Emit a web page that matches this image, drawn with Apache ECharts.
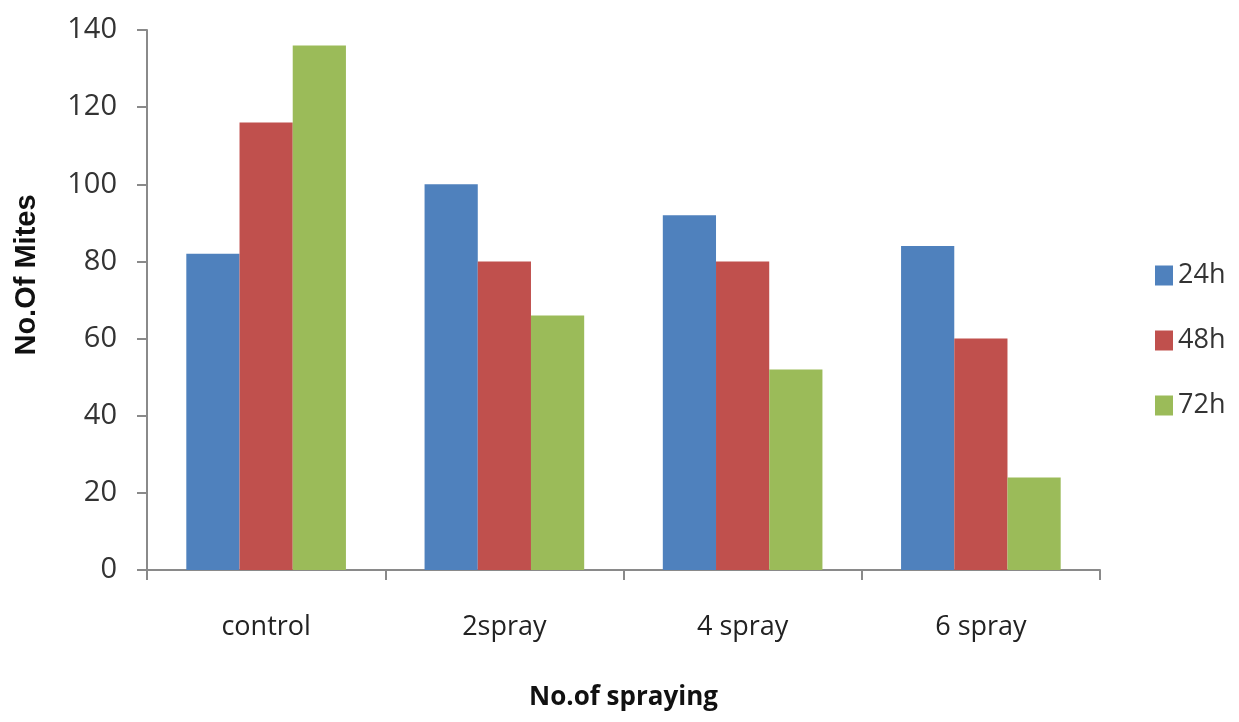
<!DOCTYPE html>
<html>
<head>
<meta charset="utf-8">
<script src="https://cdn.jsdelivr.net/npm/echarts@6/dist/echarts.min.js"></script>
<style>
html,body{margin:0;padding:0;background:#fff;}
#chart{width:1239px;height:722px;}
</style>
</head>
<body>
<div id="chart"></div>
<script>
var categories = ['control', '2spray', '4 spray', '6 spray'];
var seriesNames = ['24h', '48h', '72h'];
var values24h = [82, 100, 92, 84];
var values48h = [116, 80, 80, 60];
var values72h = [136, 66, 52, 24];
var yTicks = [0, 20, 40, 60, 80, 100, 120, 140];

var colors = ['#4F81BD', '#C0504D', '#9BBB59'];
var font = "'Open Sans', sans-serif";

var chart = echarts.init(document.getElementById('chart'));
var dataSets = [values24h, values48h, values72h];
chart.setOption({
  animation: false,
  backgroundColor: '#ffffff',
  grid: { left: 147, right: 139, top: 30, bottom: 152, containLabel: false },
  legend: {
    orient: 'vertical',
    left: 1150,
    top: 257,
    itemWidth: 18,
    itemHeight: 20,
    itemGap: 38,
    icon: 'rect',
    textStyle: { fontSize: 27, color: '#333', fontFamily: font },
    data: seriesNames
  },
  xAxis: {
    type: 'category',
    data: categories,
    name: 'No.of spraying',
    nameLocation: 'middle',
    nameGap: 115,
    nameTextStyle: { fontSize: 26, fontWeight: 'bold', color: '#111', fontFamily: font },
    axisLine: { lineStyle: { color: '#8a8a8a', width: 2 } },
    axisTick: { show: true, length: 10, lineStyle: { color: '#8a8a8a', width: 2 } },
    axisLabel: { fontSize: 27, color: '#222', margin: 44, fontFamily: font },
    splitLine: { show: false }
  },
  yAxis: {
    type: 'value',
    min: yTicks[0],
    max: yTicks[yTicks.length - 1],
    interval: 20,
    name: 'No.Of Mites',
    nameLocation: 'middle',
    nameGap: 106,
    nameRotate: 90,
    nameTextStyle: { fontSize: 29, fontWeight: 'bold', color: '#111', fontFamily: "'Liberation Sans', sans-serif", padding: [0, 0, 0, 50] },
    axisLine: { show: true, lineStyle: { color: '#8a8a8a', width: 2 } },
    axisTick: { show: true, length: 10, lineStyle: { color: '#8a8a8a', width: 2 } },
    axisLabel: { fontSize: 29, color: '#333', margin: 30, fontFamily: font },
    splitLine: { show: false }
  },
  series: seriesNames.map(function (n, i) {
    return {
      name: n,
      type: 'bar',
      data: dataSets[i],
      barGap: '0%',
      barCategoryGap: '33%',
      itemStyle: { color: colors[i] }
    };
  })
});
</script>
</body>
</html>
